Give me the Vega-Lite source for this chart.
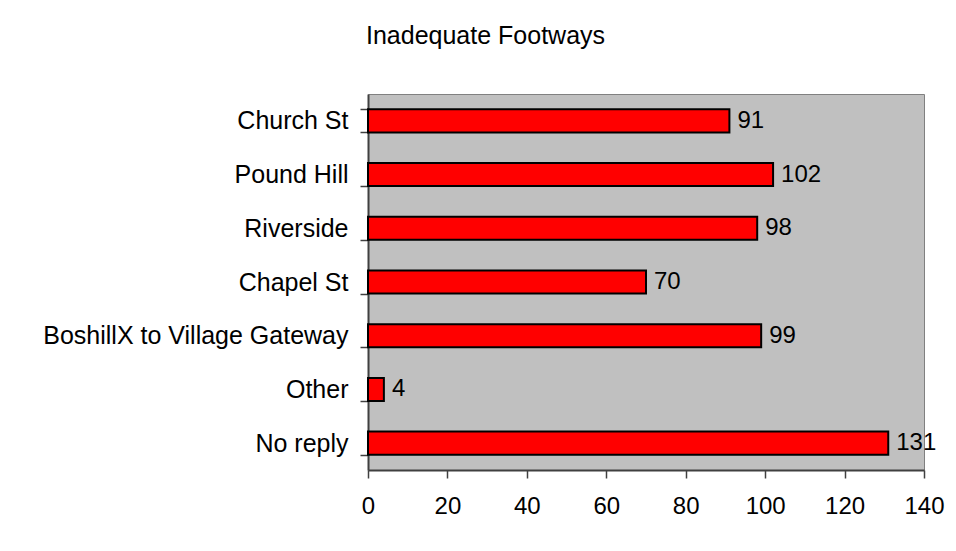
{
  "$schema": "https://vega.github.io/schema/vega-lite/v6.json",
  "width": 556,
  "height": 376,
  "autosize": {"type": "none"},
  "padding": {"left": 368, "top": 94, "right": 32, "bottom": 81},
  "background": "white",
  "title": {
    "text": "Inadequate Footways",
    "anchor": "start",
    "frame": "group",
    "dx": -2,
    "offset": 21,
    "baseline": "middle",
    "font": "Liberation Sans",
    "fontSize": 25,
    "fontWeight": "normal",
    "color": "black"
  },
  "config": {
    "view": {"fill": "#C0C0C0", "stroke": "#808080", "strokeWidth": 1},
    "axis": {
      "labelFont": "Liberation Sans",
      "labelFontSize": 24,
      "labelColor": "black",
      "labelLimit": 500,
      "domainColor": "#404040",
      "domainWidth": 2,
      "tickColor": "#404040",
      "tickWidth": 1.5,
      "tickSize": 8,
      "grid": false,
      "title": null
    }
  },
  "data": {
    "values": [
      {"category": "Church St", "count": 91},
      {"category": "Pound Hill", "count": 102},
      {"category": "Riverside", "count": 98},
      {"category": "Chapel St", "count": 70},
      {"category": "BoshillX to Village Gateway", "count": 99},
      {"category": "Other", "count": 4},
      {"category": "No reply", "count": 131}
    ]
  },
  "encoding": {
    "y": {
      "field": "category",
      "type": "nominal",
      "sort": null,
      "scale": {"paddingInner": 0.57, "paddingOuter": 0.285},
      "axis": {"labelPadding": 12, "labelFontSize": 25, "tickBand": "extent"}
    },
    "x": {
      "field": "count",
      "type": "quantitative",
      "scale": {"domain": [0, 140], "nice": false},
      "axis": {"values": [0, 20, 40, 60, 80, 100, 120, 140], "labelPadding": 16, "labelFlush": false}
    }
  },
  "layer": [
    {
      "mark": {"type": "bar", "fill": "#FF0000", "stroke": "black", "strokeWidth": 2}
    },
    {
      "mark": {"type": "text", "align": "left", "baseline": "middle", "dx": 8, "font": "Liberation Sans", "fontSize": 24, "color": "black"},
      "encoding": {"text": {"field": "count", "type": "quantitative"}}
    }
  ]
}
